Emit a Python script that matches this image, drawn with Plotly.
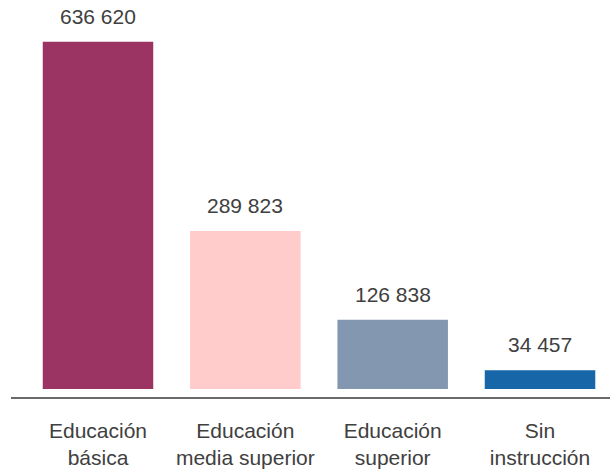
import plotly.graph_objects as go

categories = ["Educación<br>básica", "Educación<br>media superior", "Educación<br>superior", "Sin<br>instrucción"]
values = [636620, 289823, 126838, 34457]
colors = ["#9B3462", "#FFCBCB", "#8497B0", "#1766A8"]
labels = [f"{v:,}".replace(",", " ") for v in values]

fig = go.Figure()
fig.add_trace(go.Bar(x=categories, y=values, marker_color=colors, marker_line_width=0,
                     hoverinfo="skip"))

for c, v, t in zip(categories, values, labels):
    fig.add_annotation(x=c, y=v, text=t, showarrow=False, yanchor="bottom",
                       yshift=12, font=dict(size=21, color="#404040"))

fig.update_layout(
    width=610, height=470,
    margin=dict(l=11, r=0, t=0, b=73),
    paper_bgcolor="white", plot_bgcolor="white",
    font=dict(family="Arial, Liberation Sans, sans-serif", size=21, color="#404040"),
    bargap=0.25, showlegend=False,
    xaxis=dict(range=[-0.5905, 3.475], showline=True, linecolor="#6a6a6a", linewidth=1.5,
               ticks="", showgrid=False, zeroline=False, ticklabelstandoff=14,
               tickfont=dict(size=21, color="#404040")),
    yaxis=dict(range=[-14664, 713056], visible=False, showgrid=False, zeroline=False),
)

fig.write_html("out.html", config={"displayModeBar": False},
               post_script="document.body.style.margin='0';")
